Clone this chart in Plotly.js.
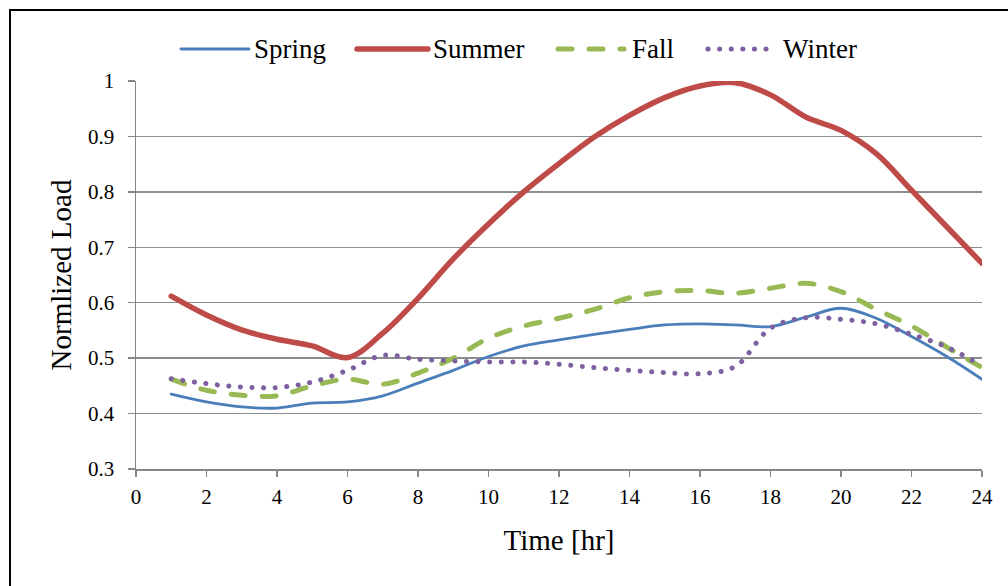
<!DOCTYPE html>
<html>
<head>
<meta charset="utf-8">
<script src="https://cdn.plot.ly/plotly-3.0.1.min.js"></script>
<style>
  html, body { margin: 0; padding: 0; background: #fff; }
  #wrap { position: relative; width: 1008px; height: 586px; overflow: hidden; }
  #chart { position: absolute; left: 0; top: 0; width: 1008px; height: 586px; }
  #frame { position: absolute; left: 9px; top: 9px; width: 1100px; height: 700px;
           border-left: 2px solid #000; border-top: 2px solid #000; pointer-events: none; }
  .scatterlayer path.js-line, .shapelayer path { stroke-linecap: round; }
  #chart text { font-family: 'Liberation Serif', 'Times New Roman', serif !important; }
</style>
</head>
<body>
<div id="wrap"><div id="chart"></div><div id="frame"></div></div>
<script>
const hours = [1,2,3,4,5,6,7,8,9,10,11,12,13,14,15,16,17,18,19,20,21,22,23,24];
const spring = [0.435,0.421,0.412,0.410,0.419,0.421,0.432,0.455,0.478,0.503,0.522,0.533,0.543,0.552,0.560,0.562,0.560,0.557,0.574,0.590,0.572,0.539,0.503,0.462];
const summer = [0.612,0.578,0.551,0.534,0.522,0.501,0.545,0.608,0.679,0.742,0.800,0.851,0.899,0.938,0.970,0.991,0.997,0.975,0.935,0.911,0.869,0.803,0.737,0.671];
const fall   = [0.462,0.442,0.433,0.432,0.450,0.462,0.453,0.473,0.500,0.536,0.558,0.572,0.588,0.609,0.620,0.622,0.617,0.626,0.635,0.620,0.588,0.558,0.520,0.483];
const winter = [0.463,0.454,0.448,0.447,0.457,0.478,0.505,0.498,0.495,0.493,0.493,0.489,0.483,0.478,0.474,0.472,0.485,0.554,0.573,0.570,0.562,0.543,0.520,0.486];
const seriesNames = ['Spring','Summer','Fall','Winter'];
const xTicks = [0,2,4,6,8,10,12,14,16,18,20,22,24];
const yTicks = [0.3,0.4,0.5,0.6,0.7,0.8,0.9,1];

const SERIF = 'Liberation Serif, Times New Roman, serif';
const colors = ['#4a7ebb','#be4b48','#98b954','#7d60a0'];
const widths = [2.8, 5.5, 5, 5];
const dashes = ['solid','solid','14px,17px','0.1px,11.5px'];
const data = [spring, summer, fall, winter];

const traces = data.map((ys, i) => ({
  x: hours, y: ys, type: 'scatter', mode: 'lines', name: seriesNames[i],
  line: {color: colors[i], width: widths[i], dash: dashes[i], shape: 'spline', smoothing: 1},
  showlegend: false, hoverinfo: 'skip'
}));

// custom legend (samples + labels) in paper coordinates
const L = 136, W = 846, B = 469, H = 388;
const px = v => (v - L) / W;
const py = v => (B - v) / H;
const legY = py(49);
const legItems = [
  {x0: 181, x1: 249, tx: 254},
  {x0: 357, x1: 428, tx: 433},
  {x0: 558, x1: 624, tx: 632},
  {x0: 708, x1: 775, tx: 783}
];
const shapes = legItems.map((it, i) => ({
  type: 'line', xref: 'paper', yref: 'paper',
  x0: px(it.x0), x1: px(it.x1), y0: legY, y1: legY,
  line: {color: colors[i], width: widths[i], dash: dashes[i]}
}));
const annotations = legItems.map((it, i) => ({
  xref: 'paper', yref: 'paper', x: px(it.tx), y: legY, xanchor: 'left', yanchor: 'middle',
  text: seriesNames[i], showarrow: false, xshift: -2,
  font: {family: SERIF, size: 27, color: '#000'}
}));

const layout = {
  width: 1008, height: 586,
  margin: {l: 136, r: 26, t: 81, b: 117},
  paper_bgcolor: '#fff', plot_bgcolor: '#fff',
  font: {family: SERIF, color: '#000'},
  xaxis: {
    range: [0, 24], tickvals: xTicks, ticktext: xTicks.map(String),
    showgrid: false, zeroline: false,
    showline: true, linecolor: '#868686', linewidth: 1.5,
    ticks: 'outside', ticklen: 6, tickcolor: '#868686', tickwidth: 1.5,
    tickfont: {size: 21, family: SERIF, color: '#000'},
    ticklabelstandoff: 2,
    title: {text: 'Time [hr]', font: {size: 29, family: SERIF, color: '#000'}, standoff: 22}
  },
  yaxis: {
    range: [0.3, 1], tickvals: yTicks, ticktext: yTicks.map(String),
    showgrid: true, gridcolor: '#8c8c8c', gridwidth: 1.5, zeroline: false,
    showline: true, linecolor: '#868686', linewidth: 1.5,
    ticks: 'outside', ticklen: 7, tickcolor: '#868686', tickwidth: 1.5,
    tickfont: {size: 21, family: SERIF, color: '#000'},
    ticklabelstandoff: 9,
    title: {text: 'Normlized Load', font: {size: 29, family: SERIF, color: '#000'}, standoff: 8}
  },
  shapes: shapes,
  annotations: annotations,
  showlegend: false
};

Plotly.newPlot('chart', traces, layout, {staticPlot: true, displayModeBar: false});
</script>
</body>
</html>
